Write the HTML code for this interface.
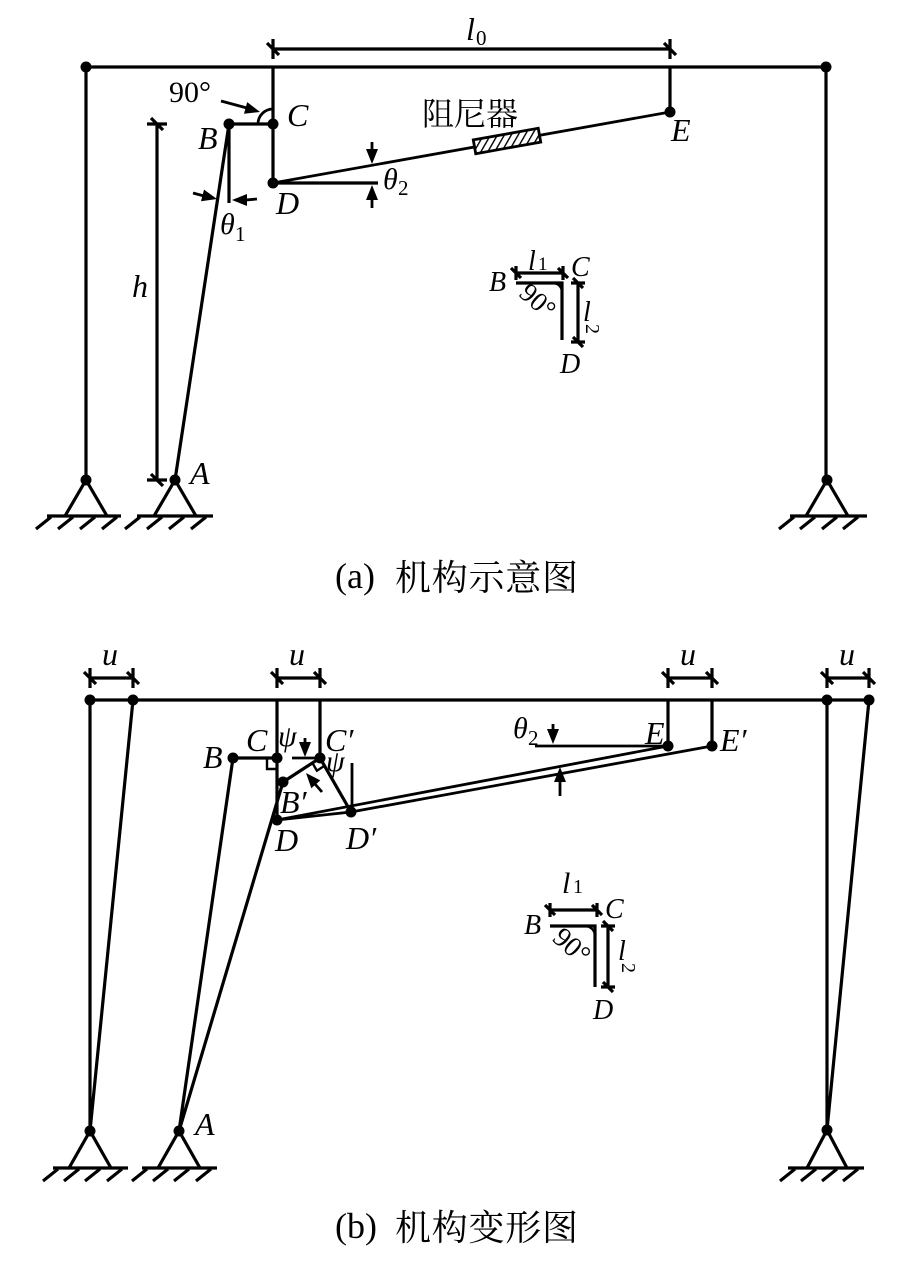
<!DOCTYPE html>
<html><head><meta charset="utf-8"><style>
html,body{margin:0;padding:0;background:#fff;}
svg{display:block;}
.l{font-family:"Liberation Serif","Noto Serif CJK SC",serif;font-style:italic;font-size:32px;}
.r{font-family:"Liberation Serif","Noto Serif CJK SC",serif;font-size:30px;}
.cj{font-family:"Noto Serif CJK SC","Noto Sans CJK SC",serif;}
</style></head><body>
<svg width="900" height="1266" viewBox="0 0 900 1266" xmlns="http://www.w3.org/2000/svg">
<defs>
<pattern id="hp" width="6" height="6" patternUnits="userSpaceOnUse" patternTransform="rotate(40)">
<rect width="6" height="6" fill="#fff"/>
<line x1="0" y1="0" x2="0" y2="6" stroke="#000" stroke-width="2.8"/>
</pattern>
</defs>

<!-- ================= (a) ================= -->
<g fill="none" stroke="#000" stroke-width="3.2">
<path d="M86 67 H826 M86 67 V480 M826 67 V480 M273 67 V183 M670 67 V112 M229 124 H273 M229 124 V203 M175 480 L229 124 M273 183 H378"/>
<path d="M273 183 L670 112" stroke-width="2.8"/>
<path d="M273 49 H670 M273 39 V59 M267 43 L279 55 M670 39 V59 M664 43 L676 55"/>
<path d="M157 124 V480 M147 124 H167 M151 118 L163 130 M147 480 H167 M151 474 L163 486"/>
<path d="M258 124 A15 15 0 0 1 273 109" stroke-width="2.8"/>
<path d="M221 101 L247 108 M193 193 L204 196 M257 199 L246 200 M372 142 V150 M372 208 V199" stroke-width="2.8"/>
</g>
<g fill="#000">
<polygon points="260,112 244,113.7 247.2,102.1"/>
<polygon points="217,199 201,201.2 204,189.6"/>
<polygon points="232,200 247,194 247,206"/>
<polygon points="372,164 366,149 378,149"/>
<polygon points="372,185 366,200 378,200"/>
</g>
<g transform="translate(507,141) rotate(-10.14)">
<rect x="-33" y="-7" width="66" height="14" fill="url(#hp)" stroke="#000" stroke-width="2.8"/>
</g>
<g fill="#000">
<circle cx="86" cy="67" r="5.5"/><circle cx="826" cy="67" r="5.5"/>
<circle cx="229" cy="124" r="5.5"/><circle cx="273" cy="124" r="5.5"/>
<circle cx="273" cy="183" r="5.5"/><circle cx="670" cy="112" r="5.5"/>
</g>
<g transform="translate(86,480)" stroke="#000" stroke-width="3.2" fill="none">
<polyline points="-21,36 0,0 21,36"/><line x1="-39" y1="36" x2="35" y2="36"/>
<path d="M-35 37 L-50 49 M-13 37 L-28 49 M9 37 L-6 49 M31 37 L16 49"/>
<circle r="5.5" fill="#000" stroke="none"/>
</g>
<g transform="translate(175,480)" stroke="#000" stroke-width="3.2" fill="none">
<polyline points="-21,36 0,0 21,36"/><line x1="-38" y1="36" x2="38" y2="36"/>
<path d="M-35 37 L-50 49 M-13 37 L-28 49 M9 37 L-6 49 M31 37 L16 49"/>
<circle r="5.5" fill="#000" stroke="none"/>
</g>
<g transform="translate(827,480)" stroke="#000" stroke-width="3.2" fill="none">
<polyline points="-21,36 0,0 21,36"/><line x1="-37" y1="36" x2="40" y2="36"/>
<path d="M-33 37 L-48 49 M-12 37 L-27 49 M10 37 L-5 49 M31 37 L16 49"/>
<circle r="5.5" fill="#000" stroke="none"/>
</g>
<g fill="none" stroke="#000" stroke-width="3.2">
<path d="M516 283 H562 V340"/>
<path d="M553 283 A9 9 0 0 1 562 292" stroke-width="2.4"/>
<path d="M516 273 H563 M516 266 V280 M511 268 L521 278 M563 266 V280 M558 268 L568 278"/>
<path d="M578 283 V342 M571 283 H585 M573 278 L583 288 M571 342 H585 M573 337 L583 347"/>
</g>
<text class="r" x="169" y="102">90°</text>
<text class="l" x="287" y="126">C</text>
<text class="l" x="198" y="149">B</text>
<text class="l" x="276" y="214">D</text>
<text class="l" x="671" y="141">E</text>
<text class="l" x="190" y="484">A</text>
<text class="l" x="132" y="297">h</text>
<text class="l" x="466" y="40">l</text><text class="r" x="476" y="45" style="font-size:21px">0</text>
<text class="l" x="220" y="234" style="font-size:30px">θ</text><text class="r" x="235" y="241" style="font-size:21px">1</text>
<text class="l" x="383" y="189" style="font-size:30px">θ</text><text class="r" x="398" y="195" style="font-size:21px">2</text>
<text class="cj" x="422" y="125" style="font-size:32px" textLength="96">阻尼器</text>
<text class="l" x="528" y="270" style="font-size:28px">l</text><text class="r" x="538" y="270" style="font-size:19px">1</text>
<text class="l" x="571" y="276" style="font-size:28px">C</text>
<text class="l" x="489" y="291" style="font-size:28px">B</text>
<text class="l" x="560" y="373" style="font-size:28px">D</text>
<text class="r" x="536" y="303" style="font-size:27px" text-anchor="middle" dominant-baseline="middle" transform="rotate(42 536 303)">90°</text>
<text class="l" x="583" y="321" style="font-size:28px">l</text>
<text class="r" x="0" y="0" style="font-size:20px" transform="translate(586,324) rotate(90)">2</text>

<text class="r" x="335" y="588" style="font-size:36px">(a)</text>
<text class="cj" x="395" y="590" style="font-size:36px" textLength="183">机构示意图</text>

<!-- ================= (b) ================= -->
<g fill="none" stroke="#000" stroke-width="3.2">
<path d="M90 700 H869 M90 700 V1131 M133 700 L90 1131 M827 700 V1130 M869 700 L827 1130"/>
<path d="M277 700 V820 M320 700 V758 M668 700 V746 M712 700 V746"/>
<path d="M233 758 H277 M179 1131 L233 758 M179 1131 L283 782 M283 782 L320 758 M320 758 L351 812"/>
<path d="M352 763 V812 M292 758 H320" stroke-width="2.8"/>
<path d="M277 820 L351 812 M277 820 L668 746 M351 812 L712 746" stroke-width="2.8"/>
<path d="M535 746 H668" stroke-width="2.8"/>
<path d="M267 758 V769 H277" stroke-width="2.4"/>
<path d="M312.4 762.9 L316.9 770.7 L324.5 765.8" stroke-width="2.4"/>
<path d="M90 678 H133 M90 668 V688 M84 672 L96 684 M133 668 V688 M127 672 L139 684"/>
<path d="M277 678 H320 M277 668 V688 M271 672 L283 684 M320 668 V688 M314 672 L326 684"/>
<path d="M668 678 H712 M668 668 V688 M662 672 L674 684 M712 668 V688 M706 672 L718 684"/>
<path d="M827 678 H869 M827 668 V688 M821 672 L833 684 M869 668 V688 M863 672 L875 684"/>
<path d="M305 738 V743 M322 792 L315 784 M553 724 V730 M560 796 V781" stroke-width="2.8"/>
</g>
<g fill="#000">
<polygon points="305,757 299,742 311,742"/>
<polygon points="306,773 320.3,780.4 311.3,788.2"/>
<polygon points="553,744 547,729 559,729"/>
<polygon points="560,767 554,782 566,782"/>
</g>
<g fill="#000">
<circle cx="90" cy="700" r="5.5"/><circle cx="133" cy="700" r="5.5"/>
<circle cx="827" cy="700" r="5.5"/><circle cx="869" cy="700" r="5.5"/>
<circle cx="233" cy="758" r="5.5"/><circle cx="277" cy="758" r="5.5"/>
<circle cx="320" cy="758" r="5.5"/><circle cx="283" cy="782" r="5.5"/>
<circle cx="277" cy="820" r="5.5"/><circle cx="351" cy="812" r="5.5"/>
<circle cx="668" cy="746" r="5.5"/><circle cx="712" cy="746" r="5.5"/>
</g>
<g transform="translate(90,1131)" stroke="#000" stroke-width="3.2" fill="none">
<polyline points="-21,37 0,0 21,37"/><line x1="-37" y1="37" x2="38" y2="37"/>
<path d="M-32 38 L-47 50 M-11 38 L-26 50 M10 38 L-5 50 M32 38 L17 50"/>
<circle r="5.5" fill="#000" stroke="none"/>
</g>
<g transform="translate(179,1131)" stroke="#000" stroke-width="3.2" fill="none">
<polyline points="-21,37 0,0 21,37"/><line x1="-37" y1="37" x2="38" y2="37"/>
<path d="M-32 38 L-47 50 M-11 38 L-26 50 M10 38 L-5 50 M32 38 L17 50"/>
<circle r="5.5" fill="#000" stroke="none"/>
</g>
<g transform="translate(827,1130)" stroke="#000" stroke-width="3.2" fill="none">
<polyline points="-20,38 0,0 20,38"/><line x1="-39" y1="38" x2="37" y2="38"/>
<path d="M-32 39 L-47 51 M-11 39 L-26 51 M10 39 L-5 51 M31 39 L16 51"/>
<circle r="5.5" fill="#000" stroke="none"/>
</g>
<g fill="none" stroke="#000" stroke-width="3.2">
<path d="M550 926 H595 V987"/>
<path d="M585 926 A10 10 0 0 1 595 936" stroke-width="2.4"/>
<path d="M550 910 H597 M550 903 V917 M545 905 L555 915 M597 903 V917 M592 905 L602 915"/>
<path d="M608 926 V987 M601 926 H615 M603 921 L613 931 M601 987 H615 M603 982 L613 992"/>
</g>
<text class="l" x="102" y="665">u</text>
<text class="l" x="289" y="665">u</text>
<text class="l" x="680" y="665">u</text>
<text class="l" x="839" y="665">u</text>
<text class="l" x="246" y="751">C</text>
<text class="l" x="325" y="751">C′</text>
<text class="l" x="203" y="768">B</text>
<text class="l" x="280" y="813">B′</text>
<text class="l" x="275" y="851">D</text>
<text class="l" x="346" y="849">D′</text>
<text class="l" x="645" y="744">E</text>
<text class="l" x="720" y="751">E′</text>
<text class="l" x="195" y="1135">A</text>
<text class="l" x="278" y="746" style="font-size:30px">ψ</text>
<text class="l" x="326" y="771" style="font-size:30px">ψ</text>
<text class="l" x="513" y="738" style="font-size:30px">θ</text><text class="r" x="528" y="745" style="font-size:21px">2</text>
<text class="l" x="562" y="893" style="font-size:30px">l</text><text class="r" x="573" y="893" style="font-size:20px">1</text>
<text class="l" x="605" y="918" style="font-size:28px">C</text>
<text class="l" x="524" y="934" style="font-size:28px">B</text>
<text class="l" x="593" y="1019" style="font-size:28px">D</text>
<text class="r" x="570" y="948" style="font-size:28px" text-anchor="middle" dominant-baseline="middle" transform="rotate(42 570 948)">90°</text>
<text class="l" x="618" y="960" style="font-size:28px">l</text>
<text class="r" x="0" y="0" style="font-size:20px" transform="translate(622,963) rotate(90)">2</text>

<text class="r" x="335" y="1238" style="font-size:36px">(b)</text>
<text class="cj" x="395" y="1240" style="font-size:36px" textLength="183">机构变形图</text>
</svg>
</body></html>
